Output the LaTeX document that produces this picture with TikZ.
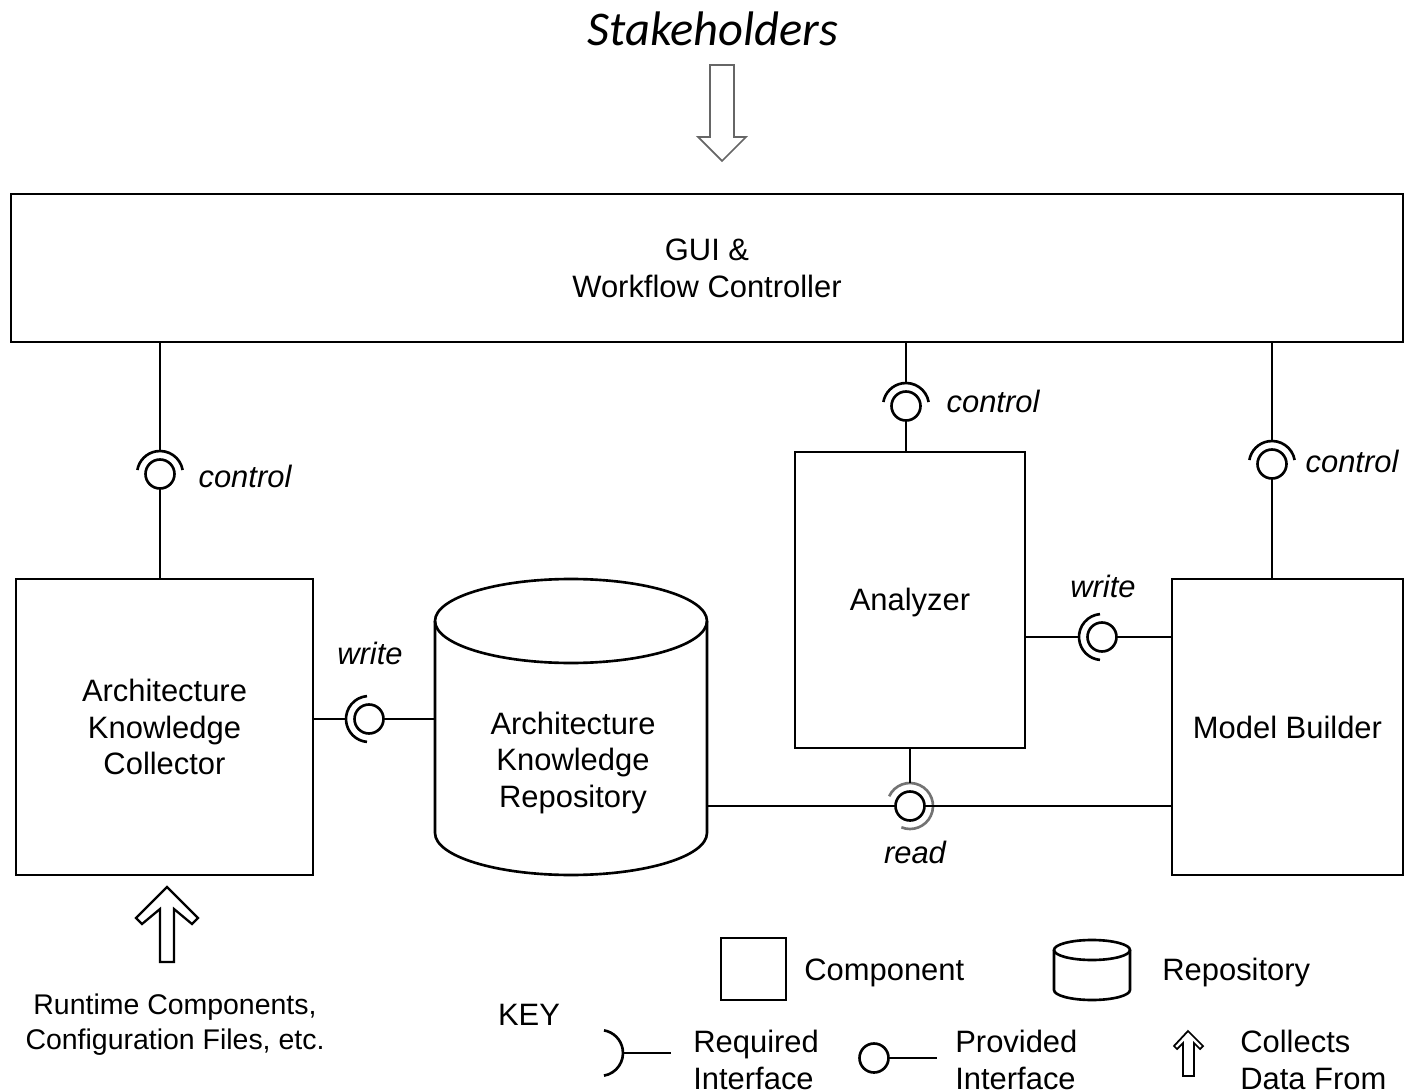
\documentclass[tikz,border=0pt]{standalone}
\usepackage{fontspec}
\setmainfont{Liberation Sans}
\newfontfamily\stakefont{Carlito}
\usetikzlibrary{calc}
\newcommand\diafont{\fontsize{17.6}{21}\selectfont}
\newcommand\notefont{\fontsize{16.2}{19.8}\selectfont}
\begin{document}
\begin{tikzpicture}[x=0.02cm,y=-0.02cm,
  comp/.style={draw,line width=1.5pt,inner sep=0pt,outer sep=0pt,align=center,font=\diafont},
  ball/.style={circle,draw,line width=1.5pt,inner sep=0pt,outer sep=0pt,minimum size=0.58cm},
  sock/.style={circle,inner sep=0pt,outer sep=0pt,minimum size=0.92cm},
  wire/.style={line width=1.5pt},
  lbl/.style={font=\diafont\itshape,inner sep=0pt},
  txt/.style={font=\diafont,inner sep=0pt,align=left}]
\definecolor{arrowgray}{rgb}{0.4,0.4,0.4}
\definecolor{readgray}{rgb}{0.45,0.45,0.45}
\useasboundingbox (0,0) rectangle (1404,1091);
\coordinate[] (S1) at (710,65);
\coordinate[] (S2) at (734,65);
\coordinate[] (S3) at (734,137);
\coordinate[] (S4) at (746,137);
\coordinate[] (S5) at (722,161);
\coordinate[] (S6) at (698,137);
\coordinate[] (S7) at (710,137);
\coordinate[] (R1) at (167,887);
\coordinate[] (R2) at (198,918);
\coordinate[] (R3) at (192,924);
\coordinate[] (R4) at (174,909);
\coordinate[] (R5) at (174,962);
\coordinate[] (R6) at (160,962);
\coordinate[] (R7) at (160,909);
\coordinate[] (R8) at (142,924);
\coordinate[] (R9) at (136,918);
\coordinate[] (akrtop) at (571,621);
\coordinate[] (akrbot) at (571,833);
\coordinate[] (kcyltop) at (1092,950);
\coordinate[] (kcylbot) at (1092,990);
\coordinate[] (kreqend) at (671,1053);
\coordinate[] (kprovend) at (937,1058);

% components
\node[comp,minimum width=27.84cm,minimum height=2.96cm] (gui) at (707,268) {GUI \&\\Workflow Controller};
\node[comp,minimum width=5.94cm,minimum height=5.92cm] (akc) at (164.5,727) {Architecture\\Knowledge\\Collector};
\node[comp,minimum width=4.6cm,minimum height=5.92cm] (ana) at (910,600) {};
\node[txt] (anatext) at (910,603) {Analyzer};
\node[comp,minimum width=4.62cm,minimum height=5.92cm] (mb) at (1287.5,727) {Model Builder};
\node[inner sep=0pt,outer sep=0pt,minimum width=5.44cm,minimum height=5.92cm] (akr) at (571,727) {};
\draw[wire] (akr.west |- akrtop) -- (akr.west |- akrbot) arc[start angle=180,end angle=360,x radius=2.72cm,y radius=0.84cm] -- (akr.east |- akrtop);
\draw[wire] (akrtop) ellipse[x radius=2.72cm,y radius=0.84cm];
\node[txt,align=center] (akrtext) at (573,763) {Architecture\\Knowledge\\Repository};

% interfaces
\node[ball] (bc1) at (160,474) {};
\node[sock] (sc1) at (160,474) {};
\node[ball] (bc2) at (906,406) {};
\node[sock] (sc2) at (906,406) {};
\node[ball] (bc3) at (1272,464) {};
\node[sock] (sc3) at (1272,464) {};
\node[ball] (bw1) at (369,719) {};
\node[sock] (sw1) at (369,719) {};
\node[ball] (bw2) at (1102,637) {};
\node[sock] (sw2) at (1102,637) {};
\node[ball] (br) at (910,806) {};
\node[sock] (sr) at (910,806) {};
\draw[wire] (sc1.10) arc[start angle=10,end angle=170,radius=0.46cm];
\draw[wire] (sc2.10) arc[start angle=10,end angle=170,radius=0.46cm];
\draw[wire] (sc3.10) arc[start angle=10,end angle=170,radius=0.46cm];
\draw[wire] (sw1.95) arc[start angle=95,end angle=265,radius=0.46cm];
\draw[wire] (sw2.95) arc[start angle=95,end angle=265,radius=0.46cm];
\draw[wire,draw=readgray] (sr.155) arc[start angle=155,end angle=-112,radius=0.46cm];

% connectors
\draw[wire] (gui.south -| sc1) -- (sc1.north);
\draw[wire] (bc1.south) -- (akc.north -| bc1);
\draw[wire] (gui.south -| sc2) -- (sc2.north);
\draw[wire] (bc2.south) -- (ana.north -| bc2);
\draw[wire] (gui.south -| sc3) -- (sc3.north);
\draw[wire] (bc3.south) -- (mb.north -| bc3);
\draw[wire] (akc.east |- sw1) -- (sw1.west);
\draw[wire] (bw1.east) -- (akr.west |- bw1);
\draw[wire] (ana.east |- sw2) -- (sw2.west);
\draw[wire] (bw2.east) -- (mb.west |- bw2);
\draw[wire] (akr.east |- br) -- (br.west);
\draw[wire] (br.east) -- (mb.west |- br);
\draw[wire] (ana.south -| sr) -- (sr.north);

% labels
\node[lbl] (lc1) at (245,476) {control};
\node[lbl] (lc2) at (993,401) {control};
\node[lbl] (lc3) at (1352,461) {control};
\node[lbl] (lw1) at (370,653) {write};
\node[lbl] (lw2) at (1103,586) {write};
\node[lbl] (lr) at (915,852) {read};

% stakeholders and data sources
\node[font=\stakefont\itshape\fontsize{27.6}{31}\selectfont,inner sep=0pt] (stake) at (713,29) {Stakeholders};
\draw[line width=1pt,draw=arrowgray] (S1)--(S2)--(S3)--(S4)--(S5)--(S6)--(S7)--cycle;
\draw[line width=1.3pt] (R1)--(R2)--(R3)--(R4)--(R5)--(R6)--(R7)--(R8)--(R9)--cycle;
\node[font=\notefont,align=center,inner sep=0pt] (src) at (175,1025) {Runtime Components,\\Configuration Files, etc.};

% key
\node[txt] (key) at (529,1015) {KEY};
\node[comp,minimum width=1.3cm,minimum height=1.24cm] (kcomp) at (753.5,969) {};
\node[txt,anchor=west] (kcomptext) at (804,973) {Component};
\draw[wire] ($(kcyltop)+(-38,0)$) -- ($(kcylbot)+(-38,0)$) arc[start angle=180,end angle=360,x radius=0.76cm,y radius=0.2cm] -- ($(kcyltop)+(38,0)$);
\draw[wire] (kcyltop) ellipse[x radius=0.76cm,y radius=0.2cm];
\node[txt,anchor=west] (kcyltext) at (1162,973) {Repository};
\node[sock] (kreq) at (600,1053) {};
\draw[wire] (kreq.-80) arc[start angle=-80,end angle=80,radius=0.46cm];
\draw[wire] (kreq.east) -- (kreqend);
\node[txt,anchor=west] (kreqtext) at (693,1060) {Required\\Interface};
\node[ball] (kprov) at (874,1058) {};
\draw[wire] (kprov.east) -- (kprovend);
\node[txt,anchor=west] (kprovtext) at (955,1060) {Provided\\Interface};
\draw[line width=1pt] (1188,1031)--(1203,1046)--(1200,1049)--(1194,1043)--(1194,1076)--(1183,1076)--(1183,1043)--(1177,1049)--(1174,1046)--cycle;
\node[txt,anchor=west] (kcoltext) at (1240,1060) {Collects\\Data From};
\end{tikzpicture}
\end{document}
